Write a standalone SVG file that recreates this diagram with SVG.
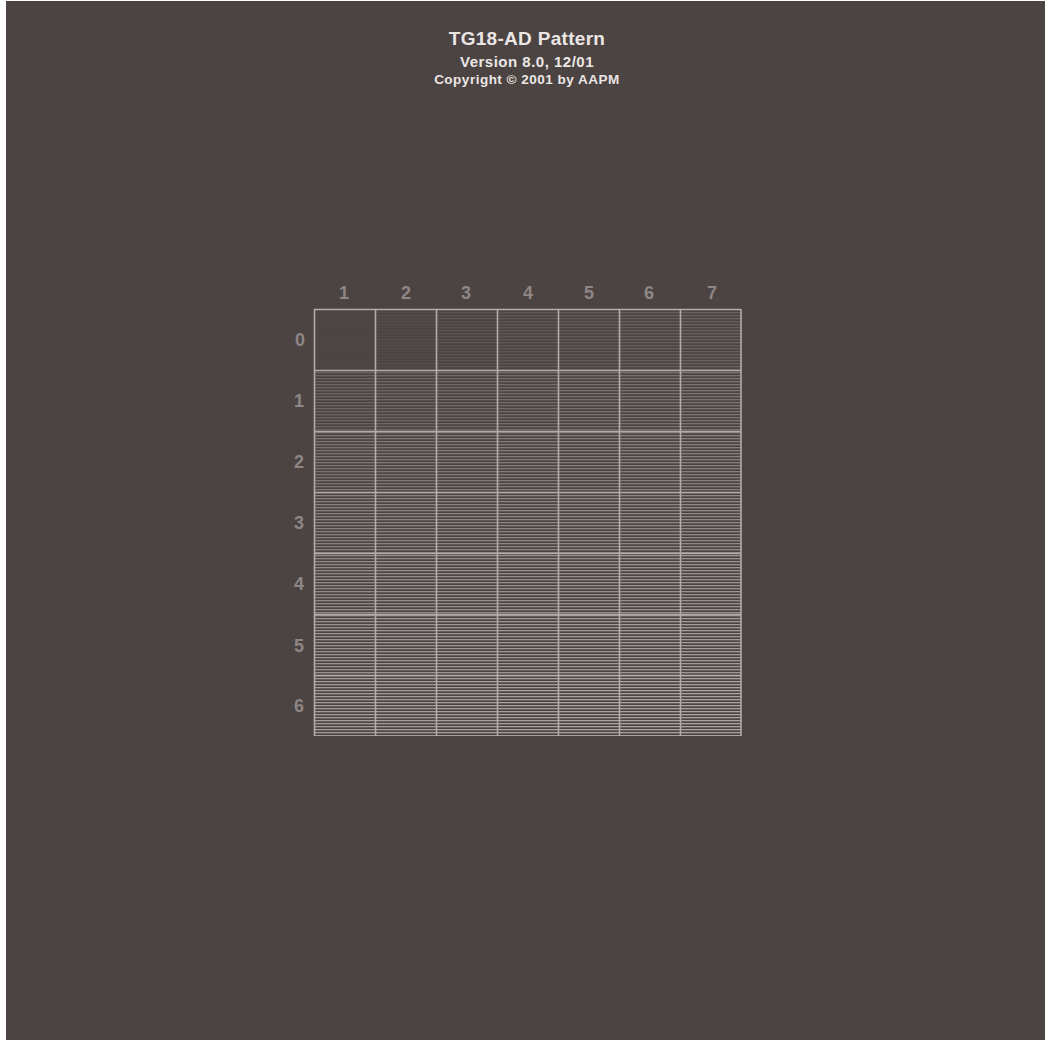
<svg xmlns="http://www.w3.org/2000/svg" width="1045" height="1041" viewBox="0 0 1045 1041">
<style>
.t{font-family:"Liberation Sans",Arial,sans-serif;font-weight:bold;fill:#ebe7e5;text-anchor:middle}
.lb{font-family:"Liberation Sans",Arial,sans-serif;font-weight:bold;font-size:18px;fill:#8e8684;text-anchor:middle}
.cell{fill:url(#hl)}
.gl{stroke:#b3aba8;stroke-width:1.6;fill:none}
</style>
<defs>
<pattern id="hl" width="8" height="3" patternUnits="userSpaceOnUse" y="309">
<rect x="0" y="0" width="8" height="1.3" fill="#aba3a0"/>
</pattern>
</defs>
<rect width="1045" height="1041" fill="#ffffff"/>
<rect x="6" y="1" width="1039" height="1039" fill="#4b4443"/>
<g id="title">
<text class="t" x="527" y="45" font-size="19" letter-spacing="0.3">TG18-AD Pattern</text>
<text class="t" x="527" y="67" font-size="15" letter-spacing="0.5">Version 8.0, 12/01</text>
<text class="t" x="527" y="84" font-size="13.5" letter-spacing="0.5">Copyright © 2001 by AAPM</text>
</g>
<g id="cells">
<g id="row0"><rect class="cell" opacity=".03" x="314" y="309" width="61" height="61"/><rect class="cell" opacity=".07" x="375" y="309" width="61" height="61"/><rect class="cell" opacity=".15" x="436" y="309" width="61" height="61"/><rect class="cell" opacity=".19" x="497" y="309" width="61" height="61"/><rect class="cell" opacity=".23" x="558" y="309" width="61" height="61"/><rect class="cell" opacity=".27" x="619" y="309" width="61" height="61"/><rect class="cell" opacity=".30" x="680" y="309" width="61" height="61"/></g>
<g id="row1"><rect class="cell" opacity=".33" x="314" y="370" width="61" height="61"/><rect class="cell" opacity=".36" x="375" y="370" width="61" height="61"/><rect class="cell" opacity=".39" x="436" y="370" width="61" height="61"/><rect class="cell" opacity=".42" x="497" y="370" width="61" height="61"/><rect class="cell" opacity=".45" x="558" y="370" width="61" height="61"/><rect class="cell" opacity=".47" x="619" y="370" width="61" height="61"/><rect class="cell" opacity=".49" x="680" y="370" width="61" height="61"/></g>
<g id="row2"><rect class="cell" opacity=".51" x="314" y="431" width="61" height="61"/><rect class="cell" opacity=".53" x="375" y="431" width="61" height="61"/><rect class="cell" opacity=".55" x="436" y="431" width="61" height="61"/><rect class="cell" opacity=".57" x="497" y="431" width="61" height="61"/><rect class="cell" opacity=".59" x="558" y="431" width="61" height="61"/><rect class="cell" opacity=".60" x="619" y="431" width="61" height="61"/><rect class="cell" opacity=".62" x="680" y="431" width="61" height="61"/></g>
<g id="row3"><rect class="cell" opacity=".63" x="314" y="492" width="61" height="61"/><rect class="cell" opacity=".65" x="375" y="492" width="61" height="61"/><rect class="cell" opacity=".66" x="436" y="492" width="61" height="61"/><rect class="cell" opacity=".68" x="497" y="492" width="61" height="61"/><rect class="cell" opacity=".69" x="558" y="492" width="61" height="61"/><rect class="cell" opacity=".70" x="619" y="492" width="61" height="61"/><rect class="cell" opacity=".72" x="680" y="492" width="61" height="61"/></g>
<g id="row4"><rect class="cell" opacity=".73" x="314" y="553" width="61" height="61"/><rect class="cell" opacity=".75" x="375" y="553" width="61" height="61"/><rect class="cell" opacity=".76" x="436" y="553" width="61" height="61"/><rect class="cell" opacity=".77" x="497" y="553" width="61" height="61"/><rect class="cell" opacity=".78" x="558" y="553" width="61" height="61"/><rect class="cell" opacity=".80" x="619" y="553" width="61" height="61"/><rect class="cell" opacity=".81" x="680" y="553" width="61" height="61"/></g>
<g id="row5"><rect class="cell" opacity=".82" x="314" y="614" width="61" height="61"/><rect class="cell" opacity=".84" x="375" y="614" width="61" height="61"/><rect class="cell" opacity=".85" x="436" y="614" width="61" height="61"/><rect class="cell" opacity=".86" x="497" y="614" width="61" height="61"/><rect class="cell" opacity=".88" x="558" y="614" width="61" height="61"/><rect class="cell" opacity=".89" x="619" y="614" width="61" height="61"/><rect class="cell" opacity=".90" x="680" y="614" width="61" height="61"/></g>
<g id="row6"><rect class="cell" opacity=".91" x="314" y="675" width="61" height="61"/><rect class="cell" opacity=".93" x="375" y="675" width="61" height="61"/><rect class="cell" opacity=".94" x="436" y="675" width="61" height="61"/><rect class="cell" opacity=".96" x="497" y="675" width="61" height="61"/><rect class="cell" opacity=".97" x="558" y="675" width="61" height="61"/><rect class="cell" opacity=".99" x="619" y="675" width="61" height="61"/><rect class="cell" opacity="1" x="680" y="675" width="61" height="61"/></g>
</g>
<g id="grid" class="gl">
<path d="M314.5 309V736M375.5 309V736M436.5 309V736M497.5 309V736M558.5 309V736M619.5 309V736M680.5 309V736M741 309V736"/>
<path d="M314 309.5H741M314 370.5H741M314 431.5H741M314 492.5H741M314 553.5H741M314 614.5H741M314 675.5H741"/>
</g>
<g id="col-labels">
<text class="lb" x="344" y="299">1</text>
<text class="lb" x="406" y="299">2</text>
<text class="lb" x="466" y="299">3</text>
<text class="lb" x="528" y="299">4</text>
<text class="lb" x="589" y="299">5</text>
<text class="lb" x="649" y="299">6</text>
<text class="lb" x="712" y="299">7</text>
</g>
<g id="row-labels">
<text class="lb" x="300" y="346">0</text>
<text class="lb" x="299" y="407">1</text>
<text class="lb" x="299" y="468">2</text>
<text class="lb" x="299" y="529">3</text>
<text class="lb" x="299" y="590">4</text>
<text class="lb" x="299" y="652">5</text>
<text class="lb" x="299" y="712">6</text>
</g>
</svg>
